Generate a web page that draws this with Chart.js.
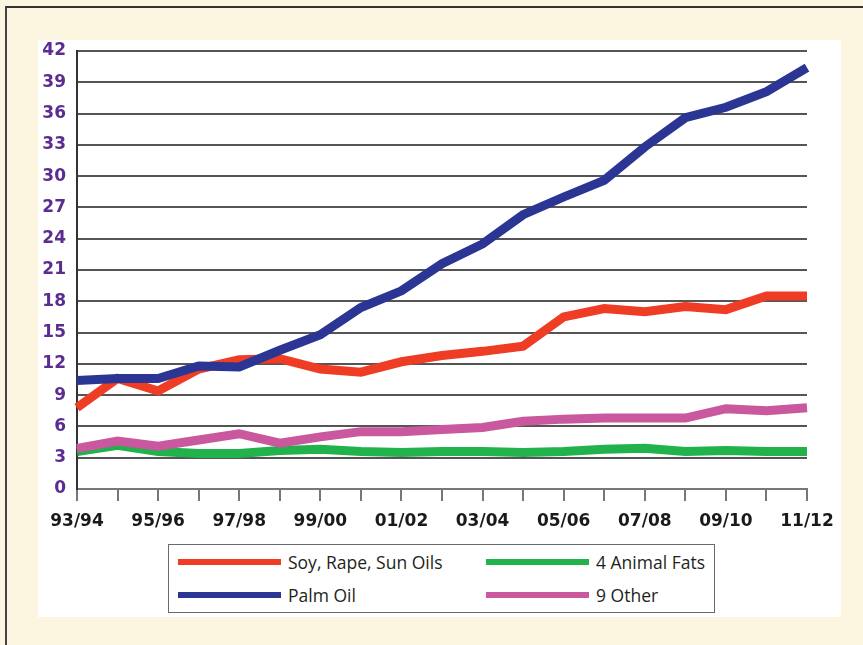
<!DOCTYPE html>
<html>
<head>
<meta charset="utf-8">
<script src="https://cdn.jsdelivr.net/npm/chart.js@4.4.1/dist/chart.umd.min.js"></script>
<style>
    body { margin: 0; width: 863px; height: 645px; background: #fcf5df; position: relative; overflow: hidden; }
    #frame { position: absolute; left: 5px; top: 6px; right: 0; bottom: 0; border-left: 2px solid #444; border-top: 2px solid #333; }
    #panel { position: absolute; left: 38px; top: 40px; width: 803px; height: 577px; background: #fff; }
    #oils { position: absolute; left: 38px; top: 40px; }
    #legend {
        position: absolute; left: 168px; top: 544px;
        border: 1.5px solid #6a6a6a; background: #fff;
        display: grid; grid-template-columns: 308px 230px; grid-template-rows: 33px 34px;
        padding-left: 9px; box-sizing: border-box; width: 547px; height: 69px;
        font-family: "Open Sans", sans-serif; font-size: 17.5px; color: #231f20;
    }
    .item { display: flex; align-items: center; }
    .swatch { width: 103px; height: 6px; margin-right: 7px; }
</style>
</head>
<body>
<div id="frame"></div>
<div id="panel"></div>
<canvas id="oils" width="803" height="510"></canvas>
<div id="legend"></div>

<script>
    // marketing years
    const seasons = ['93/94', '94/95', '95/96', '96/97', '97/98', '98/99', '99/00', '00/01', '01/02', '02/03',
        '03/04', '04/05', '05/06', '06/07', '07/08', '08/09', '09/10', '10/11', '11/12'];

    const soyRapeSun = [7.8, 10.6, 9.4, 11.5, 12.4, 12.5, 11.5, 11.2, 12.2, 12.8,
        13.2, 13.7, 16.5, 17.3, 17.0, 17.5, 17.2, 18.5, 18.5];
    const palmOil = [10.4, 10.6, 10.6, 11.8, 11.7, 13.3, 14.8, 17.4, 19.0, 21.6,
        23.5, 26.3, 28.0, 29.6, 32.8, 35.6, 36.6, 38.1, 40.4];
    const animalFats = [3.6, 4.2, 3.6, 3.4, 3.4, 3.7, 3.8, 3.6, 3.5, 3.6,
        3.6, 3.5, 3.6, 3.8, 3.9, 3.6, 3.7, 3.6, 3.6];
    const otherOils = [3.9, 4.6, 4.1, 4.7, 5.3, 4.4, 5.0, 5.5, 5.5, 5.7,
        5.9, 6.5, 6.7, 6.8, 6.8, 6.8, 7.7, 7.5, 7.8];

    const yTicks = [0, 3, 6, 9, 12, 15, 18, 21, 24, 27, 30, 33, 36, 39, 42];

    const tickFont = { family: '"DejaVu Sans", sans-serif', size: 17, weight: 'bold' };

    // order: lower number is drawn on top
    const datasets = [
        { label: 'Soy, Rape, Sun Oils', data: soyRapeSun, borderColor: '#ee3d24', order: 2 },
        { label: '4 Animal Fats', data: animalFats, borderColor: '#22b24c', order: 3 },
        { label: 'Palm Oil', data: palmOil, borderColor: '#2b3694', order: 0 },
        { label: '9 Other', data: otherOils, borderColor: '#c9589f', order: 1 },
    ].map(ds => ({ ...ds, borderWidth: 9, pointRadius: 0, tension: 0, fill: false }));

    const chart = new Chart(document.getElementById('oils'), {
        type: 'line',
        data: { labels: seasons, datasets: datasets },
        options: {
            responsive: false,
            animation: false,
            devicePixelRatio: 1,
            layout: { padding: { top: 11, right: 34, left: 0, bottom: 0 } },
            plugins: { legend: { display: false }, tooltip: { enabled: false } },
            scales: {
                x: {
                    offset: false,
                    grid: { drawOnChartArea: false, drawTicks: true, tickLength: 12, color: '#777', lineWidth: 2 },
                    border: { display: true, color: '#777', width: 2 },
                    ticks: {
                        autoSkip: false, maxRotation: 0, padding: 10,
                        font: tickFont, color: '#1a1a1a',
                        callback: (v, i) => i % 2 === 0 ? seasons[i] : ''
                    },
                    afterFit: scale => {
                        scale.height = 61;
                        scale.paddingLeft = 0;
                        scale.paddingRight = 0;
                    }
                },
                y: {
                    min: 0, max: 42,
                    afterBuildTicks: scale => { scale.ticks = yTicks.map(v => ({ value: v })); },
                    grid: { drawTicks: false, color: '#555', lineWidth: 2 },
                    border: { display: true, color: '#333', width: 2 },
                    ticks: { padding: 11, font: tickFont, color: '#5c2d91' },
                    afterFit: scale => {
                        scale.width = 39;
                        scale.paddingTop = 0;
                        scale.paddingBottom = 0;
                    }
                }
            }
        }
    });

    // html legend, two columns like the original
    const legend = document.getElementById('legend');
    chart.data.datasets.forEach(ds => {
        const item = document.createElement('div');
        item.className = 'item';
        item.innerHTML = `<span class="swatch" style="background:${ds.borderColor}"></span><span>${ds.label}</span>`;
        legend.appendChild(item);
    });
</script>
</body>
</html>
